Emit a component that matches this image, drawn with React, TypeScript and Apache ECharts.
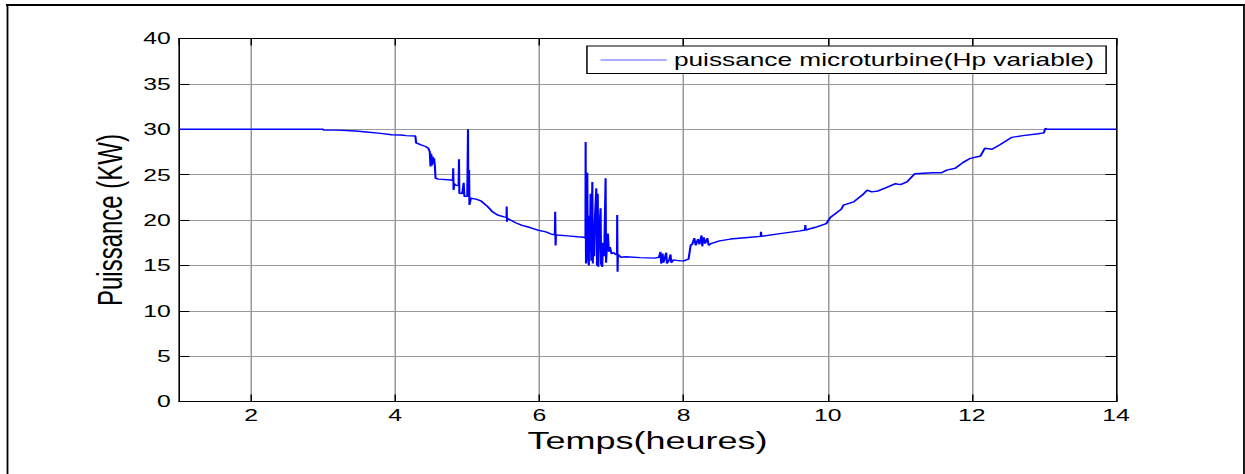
import React, { useEffect, useRef } from "react";
import * as echarts from "echarts";

// Time (hours) and microturbine power (kW)
const hours = [
  1.0, 3.0, 3.01, 3.2, 3.45, 3.6, 3.8, 3.95, 4.08, 4.15, 4.28, 4.29, 4.35, 4.42, 4.46,
  4.48, 4.49, 4.5, 4.51, 4.52, 4.53, 4.54, 4.55, 4.56, 4.6, 4.78, 4.8, 4.805, 4.81, 4.82,
  4.84, 4.88, 4.885, 4.89, 4.93, 4.95, 4.96, 5.0, 5.01, 5.015, 5.025, 5.03, 5.05, 5.12,
  5.19, 5.28, 5.35, 5.42, 5.51, 5.545, 5.547, 5.55, 5.555, 5.6, 5.67, 5.76, 5.86, 5.97,
  6.09, 6.18, 6.215, 6.22, 6.225, 6.23, 6.25, 6.39, 6.53, 6.62, 6.64, 6.642, 6.647, 6.655,
  6.665, 6.672, 6.687, 6.69, 6.7, 6.711, 6.72, 6.735, 6.742, 6.75, 6.76, 6.77, 6.79, 6.8,
  6.81, 6.818, 6.83, 6.85, 6.856, 6.873, 6.88, 6.9, 6.919, 6.925, 6.94, 6.95, 6.965, 6.98,
  7.0, 7.03, 7.06, 7.078, 7.08, 7.085, 7.09, 7.13, 7.2, 7.4, 7.6, 7.66, 7.68, 7.69, 7.71,
  7.72, 7.74, 7.76, 7.77, 7.8, 7.82, 7.83, 7.86, 7.95, 8.0, 8.07, 8.1, 8.12, 8.15, 8.17,
  8.2, 8.22, 8.25, 8.26, 8.28, 8.3, 8.33, 8.35, 8.38, 8.5, 8.65, 8.93, 9.07, 9.075, 9.08,
  9.34, 9.62, 9.685, 9.69, 9.695, 9.83, 9.98, 10.04, 10.19, 10.22, 10.36, 10.48, 10.55,
  10.61, 10.7, 10.82, 10.94, 11.01, 11.1, 11.21, 11.46, 11.58, 11.65, 11.77, 11.88, 11.98,
  12.12, 12.18, 12.28, 12.39, 12.55, 12.71, 12.92, 13.0, 13.02, 13.04, 14.0,
];
const power = [
  30.0, 30.0, 29.9, 29.9, 29.8, 29.7, 29.55, 29.4, 29.37, 29.3, 29.25, 28.5, 28.3, 28.1, 27.9,
  27.5, 25.9, 27.3, 26.0, 27.0, 26.2, 26.8, 26.0, 24.6, 24.5, 24.4, 24.35, 25.7, 23.3, 24.0,
  23.85, 23.8, 26.7, 22.95, 22.9, 24.1, 22.6, 22.6, 30.0, 22.6, 25.5, 21.65, 22.4, 22.3,
  22.1, 21.5, 20.9, 20.55, 20.35, 20.3, 21.5, 19.8, 20.2, 20.0, 19.7, 19.4, 19.2, 18.9,
  18.7, 18.4, 18.4, 20.9, 17.2, 18.4, 18.35, 18.25, 18.15, 18.1, 18.0, 28.6, 15.2, 22.0,
  25.2, 16.0, 15.0, 20.5, 16.5, 22.9, 15.5, 24.2, 15.2, 19.5, 16.0, 20.0, 23.5, 15.0,
  22.9, 14.85, 18.5, 21.3, 15.2, 14.85, 17.5, 16.0, 24.6, 15.3, 17.5, 18.5, 16.5, 17.0,
  16.3, 16.4, 16.2, 16.2, 20.55, 14.3, 16.2, 15.9, 15.95, 15.85, 15.8, 15.9, 16.5, 15.2, 16.3,
  15.3, 15.8, 16.4, 15.2, 15.6, 16.2, 15.3, 15.6, 15.5, 15.5, 15.7, 17.25, 17.3, 18.0, 17.2,
  17.9, 17.3, 18.3, 17.1, 18.1, 17.4, 18.0, 17.2, 17.4, 17.7, 17.9, 18.1, 18.2, 18.7, 18.2,
  18.5, 18.8, 18.9, 19.45, 18.9, 19.2, 19.6, 20.3, 21.2, 21.65, 22.0, 22.75, 23.3,
  23.1, 23.2, 23.6, 24.0, 23.9, 24.2, 25.1, 25.2, 25.2, 25.5, 25.7, 26.35, 26.8,
  27.05, 27.9, 27.8, 28.3, 29.1, 29.3, 29.5, 29.6, 30.1, 30.0, 30.0,
];

const seriesName = "puissance microturbine(Hp variable)";
const xTitle = "Temps(heures)";
const yTitle = "Puissance (KW)";
const xRange = [1, 14];
const yRange = [0, 40];
const yStep = 5;

const FONT = "'Liberation Sans', Arial, Helvetica, sans-serif";
const STRETCH = 1.5;
const W = 1245 / STRETCH;
const H = 474;

export default function App() {
  const ref = useRef<HTMLDivElement>(null);

  useEffect(() => {
    document.body.style.overflow = "hidden";
    const el = ref.current!;
    const chart = echarts.init(el, undefined, { renderer: "svg" });
    const data = hours.map((h, i) => [h, power[i]]);

    const axisBase = {
      axisLine: { show: true, onZero: false, lineStyle: { color: "#000", width: 1 } },
      axisTick: { show: true, inside: true, length: 7, lineStyle: { color: "#000", width: 1 } },
    };

    chart.setOption({
      animation: false,
      backgroundColor: "#fff",
      textStyle: { fontFamily: FONT, color: "#000" },
      grid: { left: 119.3, right: W - 744, top: 38.5, bottom: H - 401.5, containLabel: false },
      legend: {
        show: true,
        data: [{ name: seriesName, icon: "rect" }],
        left: 391.3,
        top: 46,
        itemWidth: 44,
        itemHeight: 1.2,
        padding: [5, 8, 4.5, 9],
        borderColor: "#000",
        borderWidth: 1,
        borderRadius: 0,
        backgroundColor: "#fff",
        itemStyle: { color: "#5c5cff", borderWidth: 0 },
        textStyle: { fontSize: 17.5, color: "#000", fontFamily: FONT },
      },
      xAxis: [
        {
          type: "value",
          min: xRange[0],
          max: xRange[1],
          splitNumber: 6,
          position: "bottom",
          ...axisBase,
          axisLabel: { show: true, showMinLabel: false, color: "#000", fontSize: 16.5, margin: 5, fontFamily: FONT },
          splitLine: { show: true, lineStyle: { color: "#999", width: 1 } },
          name: xTitle,
          nameLocation: "middle",
          nameGap: 27,
          nameTextStyle: { fontSize: 24, color: "#000", fontFamily: FONT },
        },
        {
          type: "value",
          min: xRange[0],
          max: xRange[1],
          splitNumber: 6,
          position: "top",
          ...axisBase,
          axisLabel: { show: false },
          splitLine: { show: false },
        },
      ],
      yAxis: [
        {
          type: "value",
          min: yRange[0],
          max: yRange[1],
          interval: yStep,
          position: "left",
          ...axisBase,
          axisLabel: { show: true, color: "#000", fontSize: 16.5, margin: 5.5, fontFamily: FONT },
          splitLine: { show: true, lineStyle: { color: "#999", width: 1 } },
          name: yTitle,
          nameLocation: "middle",
          nameGap: 33,
          nameTextStyle: { fontSize: 24, color: "#000", fontFamily: FONT },
        },
        {
          type: "value",
          min: yRange[0],
          max: yRange[1],
          interval: yStep,
          position: "right",
          ...axisBase,
          axisLabel: { show: false },
          splitLine: { show: false },
        },
      ],
      series: [
        {
          type: "line",
          name: seriesName,
          data,
          xAxisIndex: 0,
          yAxisIndex: 0,
          symbol: "none",
          showSymbol: false,
          lineStyle: { color: "#0000ff", width: 1.4 },
          itemStyle: { color: "#0000ff" },
        },
      ],
      graphic: [
        { type: "line", shape: { x1: 4, y1: 5, x2: 830, y2: 5 }, style: { stroke: "#000", lineWidth: 2 } },
        { type: "line", shape: { x1: 5, y1: 4, x2: 5, y2: 480 }, style: { stroke: "#000", lineWidth: 1.2 } },
        { type: "line", shape: { x1: 829.3, y1: 4, x2: 829.3, y2: 480 }, style: { stroke: "#000", lineWidth: 1.2 } },
      ],
    });
    return () => chart.dispose();
  }, []);

  return (
    <div
      ref={ref}
      style={{
        position: "absolute",
        left: 0,
        top: 0,
        width: W,
        height: H,
        transform: `scaleX(${STRETCH})`,
        transformOrigin: "0 0",
        background: "#fff",
      }}
    />
  );
}
